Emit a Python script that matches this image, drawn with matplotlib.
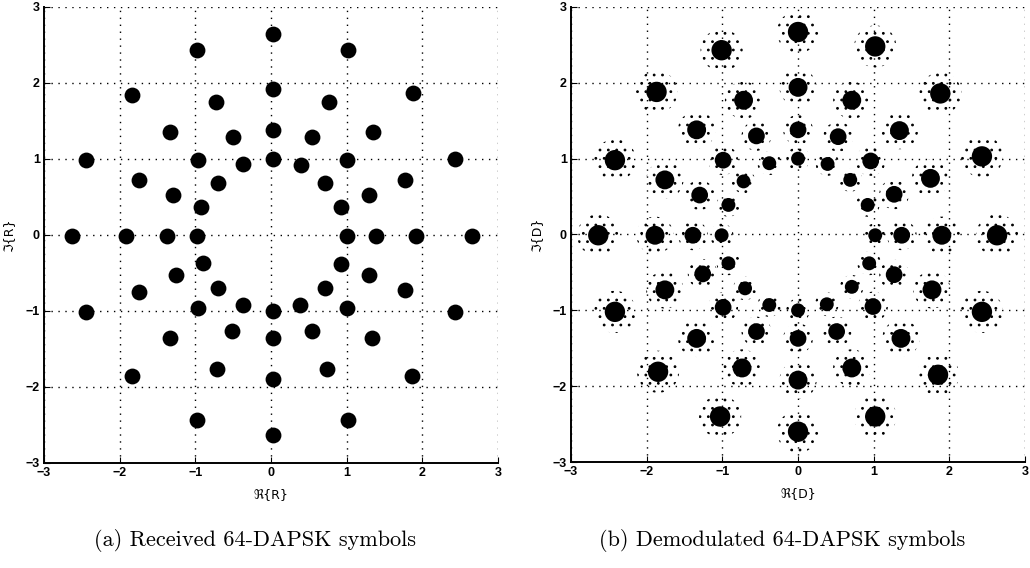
import numpy as np
import matplotlib
matplotlib.use("Agg")
import matplotlib.pyplot as plt

# =========================
# CENTROS DE LOS GRUPOS
# =========================
# (a) símbolos recibidos
rx_x = [0.02, -0.98, 1.02,
        -1.84, 0.02, -0.73, 0.76, 1.88,
        -1.33, -0.50, 0.02, 0.54, 1.35,
        -2.44, -0.96, -0.37, 0.02, 0.39, 1.00, 2.43,
        -1.75, -0.70, 0.71, 1.77,
        -1.29, 1.29, -0.92, 0.93,
        -2.63, -1.91, -1.38, -0.98, 1.01, 1.39, 1.92, 2.65,
        -0.90, 0.93, -1.25, 1.29,
        -1.75, -0.70, 0.71, 1.77,
        -2.44, -0.96, -0.37, 0.02, 0.38, 1.00, 2.43,
        -1.33, -0.52, 0.02, 0.54, 1.34,
        -1.84, -0.72, 0.02, 0.74, 1.87,
        -0.98, 1.02, 0.02]
rx_y = [2.65, 2.43, 2.44,
        1.84, 1.92, 1.75, 1.75, 1.87,
        1.36, 1.29, 1.38, 1.29, 1.36,
        0.99, 0.99, 0.94, 1.00, 0.92, 0.99, 1.00,
        0.72, 0.69, 0.69, 0.73,
        0.53, 0.53, 0.37, 0.37,
        -0.01, -0.01, -0.01, -0.01, -0.01, -0.01, -0.01, -0.01,
        -0.37, -0.38, -0.53, -0.53,
        -0.75, -0.70, -0.70, -0.72,
        -1.01, -0.96, -0.92, -1.00, -0.92, -0.96, -1.01,
        -1.36, -1.27, -1.36, -1.27, -1.36,
        -1.86, -1.77, -1.90, -1.76, -1.86,
        -2.43, -2.43, -2.63]

# (b) símbolos demodulados
dm_x = [0.00, -1.01, 1.02,
        -1.87, 0.00, -0.72, 0.71, 1.88,
        -1.34, -0.55, 0.00, 0.53, 1.34,
        -2.42, -0.99, -0.38, 0.00, 0.39, 0.96, 2.43,
        -1.76, -0.72, 0.69, 1.75,
        -1.30, 1.27, -0.92, 0.92,
        -2.64, -1.89, -1.39, -1.01, 1.02, 1.37, 1.90, 2.63,
        -0.92, 0.94, -1.26, 1.27,
        -1.76, -0.70, 0.71, 1.77,
        -2.42, -0.99, -0.38, 0.00, 0.38, 0.99, 2.43,
        -1.34, -0.55, 0.00, 0.51, 1.36,
        -1.85, -0.74, 0.00, 0.71, 1.85,
        -1.03, 1.02, 0.00]
dm_y = [2.67, 2.43, 2.48,
        1.88, 1.94, 1.77, 1.77, 1.86,
        1.38, 1.30, 1.38, 1.29, 1.37,
        0.98, 0.98, 0.94, 1.00, 0.93, 0.97, 1.03,
        0.72, 0.70, 0.72, 0.74,
        0.52, 0.53, 0.39, 0.39,
        -0.01, -0.01, -0.01, -0.01, -0.01, -0.01, -0.01, -0.01,
        -0.38, -0.38, -0.52, -0.53,
        -0.73, -0.71, -0.69, -0.73,
        -1.02, -0.96, -0.93, -1.00, -0.92, -0.95, -1.02,
        -1.37, -1.28, -1.37, -1.28, -1.37,
        -1.81, -1.76, -1.92, -1.76, -1.85,
        -2.40, -2.40, -2.60]

ticks = [-3, -2, -1, 0, 1, 2, 3]
titulos = ["(a) Received 64-DAPSK symbols", "(b) Demodulated 64-DAPSK symbols"]
etiquetas_x = ["\u211c{R}", "\u211c{D}"]
etiquetas_y = ["\u2111{R}", "\u2111{D}"]

# =========================
# FIGURA
# =========================
plt.rcParams["hatch.linewidth"] = 0.8
fig = plt.figure(figsize=(10.3, 5.68), dpi=100)
ax_a = fig.add_axes([0.0427, 0.1849, 0.4408, 0.8028])
ax_b = fig.add_axes([0.5544, 0.1866, 0.4408, 0.8011])


def base(ax, xl, yl):
    ax.set_xlim(-3, 3)
    ax.set_ylim(-3, 3)
    ax.set_xticks(ticks)
    ax.set_yticks(ticks)
    nombres = [str(t).replace("-", "\u2212") for t in ticks]
    ax.set_xticklabels(nombres)
    ax.set_yticklabels(nombres)
    for lab in ax.get_xticklabels() + ax.get_yticklabels():
        lab.set_fontsize(9)
        lab.set_fontweight("bold")
        lab.set_family(["Liberation Sans", "DejaVu Sans"])
    ax.tick_params(direction="in", length=4, width=0.8, pad=3,
                   top=False, right=False)
    for s in ["top", "right"]:
        ax.spines[s].set_visible(False)
    for s in ["left", "bottom"]:
        ax.spines[s].set_linewidth(1.4)
    ax.grid(True, color="k", linestyle=(0, (1, 4)), linewidth=1.0)
    ax.set_axisbelow(True)
    ax.set_xlabel(xl, fontsize=9)
    ax.set_ylabel(yl, fontsize=9)
    ax.xaxis.set_label_coords(0.5, -0.055)
    ax.yaxis.set_label_coords(-0.062, 0.5)


base(ax_a, etiquetas_x[0], etiquetas_y[0])
base(ax_b, etiquetas_x[1], etiquetas_y[1])

# (a) grupos compactos
ax_a.scatter(rx_x, rx_y, s=130, c="k", marker="o", linewidths=0, zorder=3)

# (b) grupos dispersos: núcleo denso + halo punteado, según el anillo
radio = np.hypot(dm_x, dm_y)
anillo = [radio < 1.2, radio < 1.6, radio < 2.2]
nucleo = np.select(anillo, [100, 145, 185], 215)
halo = np.select(anillo, [290, 460, 720], 920)
ax_b.scatter(dm_x, dm_y, s=halo, facecolors="none", edgecolors="k",
             hatch="..", linewidths=0, marker="o", zorder=2)
ax_b.scatter(dm_x, dm_y, s=nucleo, c="k", marker="o", linewidths=0, zorder=3)

# TÍTULOS INFERIORES
fig.text(0.2476, 0.049, titulos[0], ha="center", va="center",
         fontsize=16, family="cmr10")
fig.text(0.7597, 0.049, titulos[1], ha="center", va="center",
         fontsize=16, family="cmr10")

fig.savefig("out.png", dpi=100)
